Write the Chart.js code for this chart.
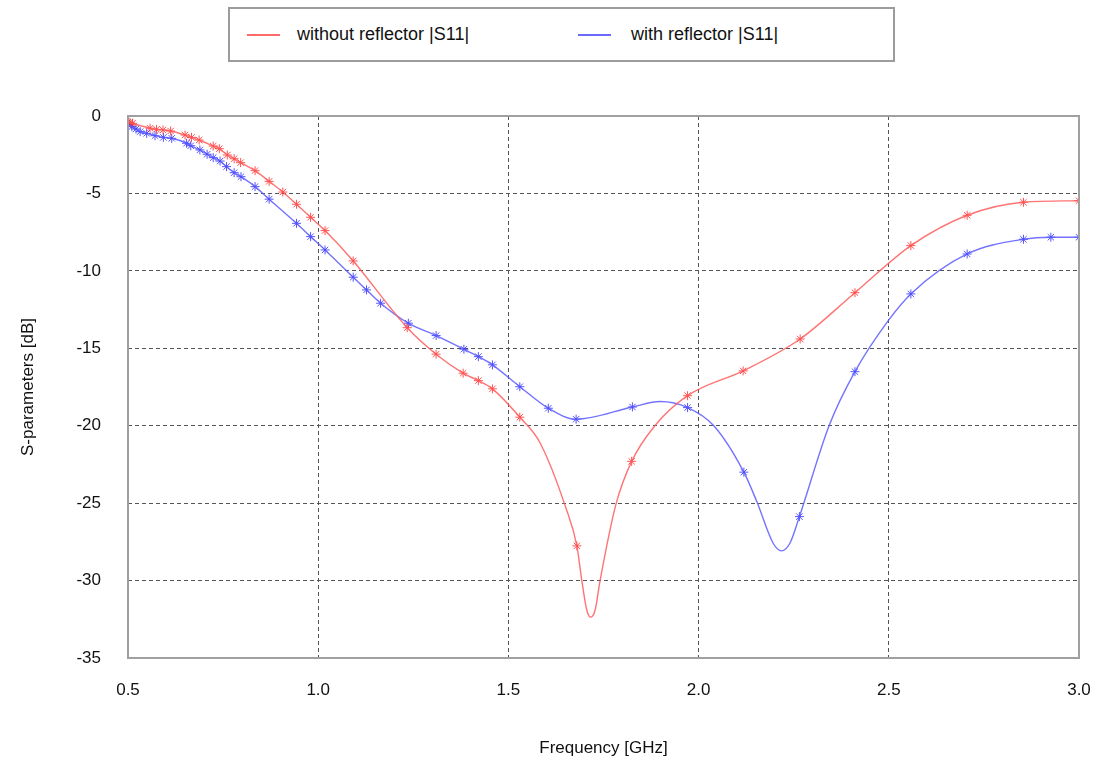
<!DOCTYPE html>
<html>
<head>
<meta charset="utf-8">
<script src="https://cdn.jsdelivr.net/npm/chart.js@4.4.1/dist/chart.umd.min.js"></script>
<style>
    body { margin: 0; background: #fff; }
    #wrap { position: relative; width: 1104px; height: 769px; }
    #legend {
        position: absolute; left: 228px; top: 7px; width: 663px; height: 51px;
        border: 2px solid #9c9c9c; background: #fff;
        font-family: "Liberation Sans", Arial, sans-serif; font-size: 18px; color: #111;
    }
    .item { position: absolute; top: 14px; height: 22px; line-height: 22px; }
    .swatch { position: absolute; top: 25px; width: 33px; height: 1.5px; }
</style>
</head>
<body>
<div id="wrap">
    <canvas id="chart" width="1104" height="769"></canvas>
    <div id="legend">
        <div class="swatch" style="left: 17px; background: #ff6a6a;"></div>
        <div class="item" style="left: 67px;">without reflector |S11|</div>
        <div class="swatch" style="left: 348px; background: #6a6aff;"></div>
        <div class="item" style="left: 401px;">with reflector |S11|</div>
    </div>
</div>
<script>
// measured points (markers) - without reflector
const redFreq = [0.5, 0.505, 0.512, 0.558, 0.575, 0.592, 0.612, 0.650, 0.667, 0.687, 0.724, 0.740,
    0.761, 0.779, 0.796, 0.834, 0.871, 0.907, 0.943, 0.980, 1.018, 1.092, 1.234, 1.310, 1.381,
    1.421, 1.458, 1.530, 1.680, 1.824, 1.971, 2.117, 2.267, 2.411, 2.558, 2.706, 2.854, 3.0];
const redS11 = [-0.40, -0.41, -0.47, -0.79, -0.86, -0.90, -0.97, -1.23, -1.38, -1.55, -1.94, -2.11,
    -2.52, -2.76, -3.01, -3.53, -4.22, -4.91, -5.70, -6.54, -7.40, -9.36, -13.67, -15.38, -16.61,
    -17.09, -17.62, -19.45, -27.76, -22.30, -18.06, -16.46, -14.40, -11.41, -8.37, -6.41, -5.57, -5.47];

// measured points (markers) - with reflector
const blueFreq = [0.501, 0.510, 0.521, 0.532, 0.549, 0.571, 0.593, 0.615, 0.654, 0.665, 0.689, 0.708,
    0.724, 0.742, 0.759, 0.779, 0.797, 0.834, 0.871, 0.943, 0.980, 1.018, 1.092, 1.127, 1.164,
    1.237, 1.310, 1.383, 1.421, 1.458, 1.530, 1.605, 1.678, 1.826, 1.971, 2.119, 2.265, 2.411,
    2.558, 2.706, 2.854, 2.926, 3.0];
const blueS11 = [-0.58, -0.69, -0.84, -1.01, -1.12, -1.27, -1.38, -1.44, -1.76, -1.92, -2.19, -2.47,
    -2.69, -2.91, -3.27, -3.66, -3.92, -4.56, -5.37, -6.93, -7.79, -8.65, -10.41, -11.23, -12.09,
    -13.38, -14.18, -15.06, -15.54, -16.07, -17.48, -18.87, -19.58, -18.79, -18.83, -23.00, -25.87, -16.51,
    -11.49, -8.91, -7.96, -7.83, -7.83];

// extra points (no marker drawn)
const redCurveFreq = [1.583, 1.651, 1.693, 1.706, 1.716, 1.728, 1.741, 1.783, 1.885];
const redCurveS11 = [-21.10, -25.30, -30.00, -31.90, -32.36, -31.90, -30.00, -25.05, -20.00];
const blueCurveFreq = [1.899, 2.040, 2.153, 2.196, 2.218, 2.240, 2.343, 2.500];
const blueCurveS11 = [-18.44, -20.00, -24.90, -27.59, -28.08, -27.59, -20.00, -13.17];

const xTicks = [0.5, 1.0, 1.5, 2.0, 2.5, 3.0];
const yTicks = [0, -5, -10, -15, -20, -25, -30, -35];

function toPoints(xs, ys) {
    return xs.map((x, i) => ({ x: x, y: ys[i] }));
}

function curvePoints(xs, ys, ex, ey) {
    return toPoints(xs, ys).concat(toPoints(ex, ey)).sort((a, b) => a.x - b.x);
}

const fontFamily = '"Liberation Sans", Arial, sans-serif';

// solid grey frame around the plot area
const framePlugin = {
    id: "frame",
    afterDraw(chart) {
        const a = chart.chartArea;
        const ctx = chart.ctx;
        ctx.save();
        ctx.strokeStyle = "#a0a0a0";
        ctx.lineWidth = 2;
        ctx.setLineDash([]);
        ctx.strokeRect(a.left, a.top, a.right - a.left, a.bottom - a.top);
        ctx.restore();
    },
};

const ctx = document.getElementById("chart").getContext("2d");
new Chart(ctx, {
    type: "scatter",
    data: {
        datasets: [
            {
                label: "without reflector |S11| curve",
                data: curvePoints(redFreq, redS11, redCurveFreq, redCurveS11),
                showLine: true,
                borderColor: "rgba(255, 90, 90, 0.85)",
                borderWidth: 1.4,
                pointRadius: 0,
                cubicInterpolationMode: "monotone",
            },
            {
                label: "with reflector |S11| curve",
                data: curvePoints(blueFreq, blueS11, blueCurveFreq, blueCurveS11),
                showLine: true,
                borderColor: "rgba(90, 90, 255, 0.85)",
                borderWidth: 1.4,
                pointRadius: 0,
                cubicInterpolationMode: "monotone",
            },
            {
                label: "without reflector |S11|",
                data: toPoints(redFreq, redS11),
                showLine: false,
                pointStyle: "star",
                pointRadius: 4.5,
                borderWidth: 1,
                borderColor: "rgba(255, 40, 40, 0.8)",
                backgroundColor: "rgba(255, 40, 40, 0.8)",
            },
            {
                label: "with reflector |S11|",
                data: toPoints(blueFreq, blueS11),
                showLine: false,
                pointStyle: "star",
                pointRadius: 4.5,
                borderWidth: 1,
                borderColor: "rgba(40, 40, 255, 0.8)",
                backgroundColor: "rgba(40, 40, 255, 0.8)",
            },
        ],
    },
    options: {
        responsive: false,
        animation: false,
        layout: { padding: { top: 116, right: 25, left: 0, bottom: 0 } },
        plugins: {
            legend: { display: false },
            tooltip: { enabled: false },
        },
        scales: {
            x: {
                type: "linear",
                min: 0.5,
                max: 3.0,
                afterBuildTicks: (axis) => {
                    axis.ticks = xTicks.map((v) => ({ value: v }));
                },
                afterFit: (axis) => {
                    axis.height = 111;
                    axis.paddingLeft = 0;
                    axis.paddingRight = 0;
                },
                ticks: {
                    padding: 22,
                    color: "#111",
                    font: { family: fontFamily, size: 17 },
                    callback: (v) => Number(v).toFixed(1),
                },
                grid: { color: "#555", lineWidth: 1, drawTicks: false },
                border: { display: false, dash: [4, 3] },
                title: {
                    display: true,
                    text: "Frequency [GHz]",
                    color: "#111",
                    font: { family: fontFamily, size: 17 },
                    padding: { bottom: 10 },
                },
            },
            y: {
                type: "linear",
                min: -35,
                max: 0,
                afterBuildTicks: (axis) => {
                    axis.ticks = yTicks.map((v) => ({ value: v }));
                },
                afterFit: (axis) => {
                    axis.width = 128;
                },
                ticks: {
                    padding: 27,
                    color: "#111",
                    font: { family: fontFamily, size: 17 },
                },
                grid: { color: "#555", lineWidth: 1, drawTicks: false },
                border: { display: false, dash: [4, 3] },
                title: {
                    display: true,
                    text: "S-parameters [dB]",
                    color: "#111",
                    font: { family: fontFamily, size: 17 },
                    padding: { top: 18 },
                },
            },
        },
    },
    plugins: [framePlugin],
});
</script>
</body>
</html>
